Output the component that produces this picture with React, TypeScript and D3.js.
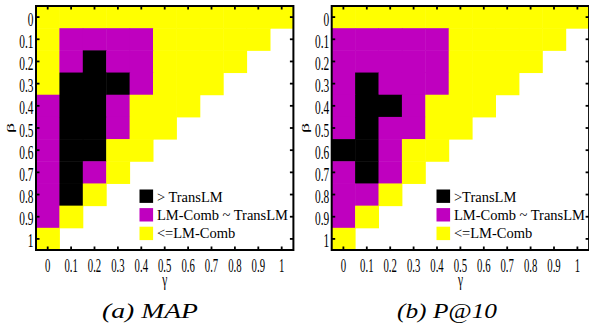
import React from 'react';
import * as d3 from 'd3';

const gammaLabels = ['0', '0.1', '0.2', '0.3', '0.4', '0.5', '0.6', '0.7', '0.8', '0.9', '1'];
const betaLabels = ['0', '0.1', '0.2', '0.3', '0.4', '0.5', '0.6', '0.7', '0.8', '0.9', '1'];

// Y: <=LM-Comb, M: LM-Comb ~ TransLM, B: > TransLM, W: no value
const mapGrid = [
  'YYYYYYYYYYY',
  'YMMMMYYYYYW',
  'YMBMMYYYYWW',
  'YBBBMYYYWWW',
  'MBBMYYYWWWW',
  'MBBMYYWWWWW',
  'MBBYYWWWWWW',
  'MBMYWWWWWWW',
  'MBYWWWWWWWW',
  'MYWWWWWWWWW',
  'YWWWWWWWWWW',
];

const p10Grid = [
  'YYYYYYYYYYY',
  'MMMMMYYYYYW',
  'MMMMMYYYYWW',
  'MBMMMYYYWWW',
  'MBBMYYYWWWW',
  'MBMMYYWWWWW',
  'BBMYYWWWWWW',
  'MBMYWWWWWWW',
  'MMYWWWWWWWW',
  'MYWWWWWWWWW',
  'YWWWWWWWWWW',
];

const legendA = ['> TransLM', 'LM-Comb ~ TransLM', '<=LM-Comb'];
const legendB = ['>TransLM', 'LM-Comb ~ TransLM', '<=LM-Comb'];
const legendKeys = ['B', 'M', 'Y'];
const captions = ['(a) MAP', '(b) P@10'];

const colorOf: Record<string, string> = { Y: '#ffff00', M: '#bf00bf', B: '#000000', W: '#ffffff' };

const TOP = 6;
const BOTTOM = 250;
const SERIF = '"Liberation Serif", "Times New Roman", Times, serif';

function Panel({ x0, grid, legend, caption, legendX, captionX, captionLen }: any) {
  const width = 257.4;
  const x = d3.scaleBand<string>().domain(gammaLabels).range([x0, x0 + width]).padding(0);
  const y = d3.scaleBand<string>().domain(betaLabels).range([TOP, BOTTOM]).padding(0);
  const bw = x.bandwidth();
  const bh = y.bandwidth();
  const cx = (g: string) => (x(g) as number) + bw / 2;
  const cy = (b: string) => (y(b) as number) + bh / 2;
  const tl = 3.5;
  const txt = { fontFamily: SERIF };
  return (
    <g>
      {grid.map((row: string, ri: number) =>
        row.split('').map((k: string, ci: number) =>
          k === 'W' ? null : (
            <rect
              key={`${ri}-${ci}`}
              x={x(gammaLabels[ci])}
              y={y(betaLabels[ri])}
              width={bw + 0.5}
              height={bh + 0.5}
              fill={colorOf[k]}
            />
          )
        )
      )}
      {gammaLabels.map((g) => (
        <g key={'tx' + g}>
          <line x1={cx(g)} x2={cx(g)} y1={BOTTOM} y2={BOTTOM - tl} stroke="#000" strokeWidth={1.8} />
          <line x1={cx(g)} x2={cx(g)} y1={TOP} y2={TOP + tl} stroke="#000" strokeWidth={1.8} />
        </g>
      ))}
      {betaLabels.map((b) => (
        <g key={'ty' + b}>
          <line x1={x0} x2={x0 + tl} y1={cy(b)} y2={cy(b)} stroke="#000" strokeWidth={1.8} />
          <line x1={x0 + width} x2={x0 + width - tl} y1={cy(b)} y2={cy(b)} stroke="#000" strokeWidth={1.8} />
        </g>
      ))}
      <rect x={x0} y={TOP} width={width} height={BOTTOM - TOP} fill="none" stroke="#000" strokeWidth={2} />
      {gammaLabels.map((g) => (
        <text
          key={'lx' + g}
          transform={`translate(${cx(g)},272) scale(0.58,1)`}
          textAnchor="middle"
          style={txt}
          fontSize={18.5}
          fill="#000"
        >
          {g}
        </text>
      ))}
      {betaLabels.map((b) => (
        <text
          key={'ly' + b}
          transform={`translate(${x0 - 2.5},${cy(b) + 8.5}) scale(0.6,1)`}
          textAnchor="end"
          style={txt}
          fontSize={19}
          fill="#000"
        >
          {b}
        </text>
      ))}
      <text
        transform={`translate(${x0 + width / 2},286) scale(0.6,1)`}
        textAnchor="middle"
        style={txt}
        fontSize={19}
        fill="#000"
      >
        γ
      </text>
      <text
        transform={`translate(${x0 - 22.5},128) rotate(-90) scale(1,0.5)`}
        textAnchor="middle"
        style={txt}
        fontSize={20}
        fill="#000"
      >
        β
      </text>
      {legend.map((t: string, i: number) => (
        <g key={'lg' + i}>
          <rect x={legendX} y={189.5 + i * 18.6} width={13.6} height={13.4} fill={colorOf[legendKeys[i]]} />
          <text x={legendX + 17.4} y={201.7 + i * 18.2} style={txt} fontSize={14.5} fill="#000">
            {t}
          </text>
        </g>
      ))}
      <text
        x={captionX}
        y={318}
        style={txt}
        fontStyle="italic"
        fontSize={20}
        textLength={captionLen}
        lengthAdjust="spacingAndGlyphs"
        fill="#000"
      >
        {caption}
      </text>
    </g>
  );
}

export default function App() {
  return (
    <svg
      width={589}
      height={326}
      style={{ position: 'absolute', left: 0, top: 0, background: '#fff' }}
      xmlns="http://www.w3.org/2000/svg"
    >
      <rect x={0} y={0} width={589} height={326} fill="#fff" />
      <Panel x0={36} grid={mapGrid} legend={legendA} caption={captions[0]} legendX={139.5} captionX={102} captionLen={96} />
      <Panel x0={331.7} grid={p10Grid} legend={legendB} caption={captions[1]} legendX={436.5} captionX={397} captionLen={100} />
    </svg>
  );
}
